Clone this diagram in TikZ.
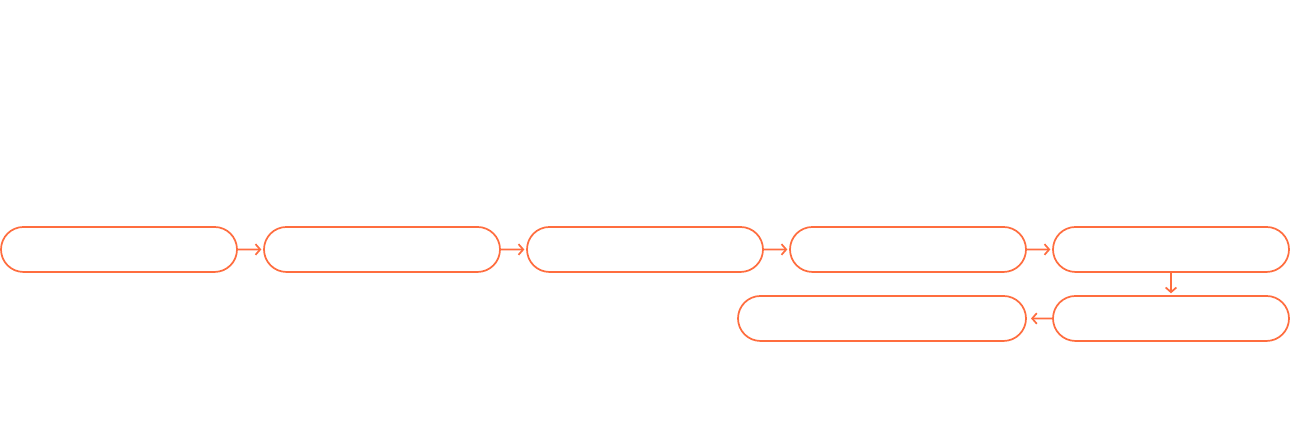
\documentclass[tikz,border=0pt]{standalone}
\usepackage{tikz}
\usetikzlibrary{arrows.meta}
\usetikzlibrary{positioning}
\usetikzlibrary{shapes.misc}
\usepackage{xcolor}
\definecolor{coral}{HTML}{FF6D3F}

\begin{document}
\begin{tikzpicture}[
        pill/.style={rounded rectangle, draw=coral, line width=1.3pt,
          minimum width=177pt, minimum height=33.75pt, inner sep=0pt,
          outer sep=0pt},
        widepill/.style={pill, minimum width=216pt},
        flow/.style={draw=coral, line width=1.3pt,
          -{Straight Barb[length=3.5pt, width=8pt]}, shorten >=2pt},
        node distance=20.25pt and 20.25pt,
      ]

      % Page frame (1292 x 436 px)
      \useasboundingbox (0, 0) rectangle (969pt, -327pt);

      % Top row
      \node[pill] (s1) at (89.25pt, -187.1pt) {};
      \node[pill, right=of s1] (s2) {};
      \node[pill, right=of s2] (s3) {};
      \node[pill, right=of s3] (s4) {};
      \node[pill, right=of s4] (s5) {};

      % Bottom row
      \node[pill, below=18pt of s5] (s6) {};
      \node[widepill, left=of s6] (s7) {};

      % Connectors
      \draw[flow] (s1) -- (s2);
      \draw[flow] (s2) -- (s3);
      \draw[flow] (s3) -- (s4);
      \draw[flow] (s4) -- (s5);
      \draw[flow] (s5) -- (s6);
      \draw[flow, shorten >=3.75pt] (s6) -- (s7);

      \end{tikzpicture}
\end{document}
